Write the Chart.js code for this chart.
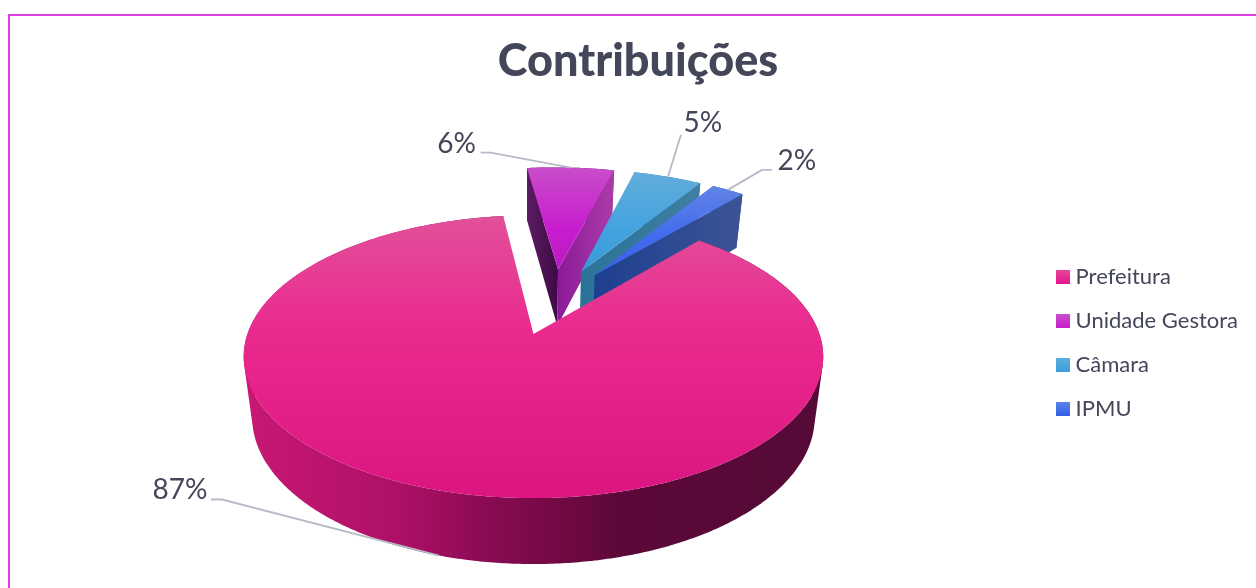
<!DOCTYPE html>
<html><head><meta charset="utf-8">
<style>
html,body{margin:0;padding:0;background:#fff;overflow:hidden;width:1256px;height:588px}
#frame{position:absolute;left:8px;top:14px;width:1260px;height:600px;border:2px solid #DB3FDD;box-sizing:border-box}
canvas{position:absolute;left:0;top:0}
</style>
<script src="https://cdn.jsdelivr.net/npm/chart.js@4/dist/chart.umd.min.js"></script>
</head><body><div id="frame"></div><canvas id="c" width="1256" height="588"></canvas>
<script>
const categories = ['Prefeitura', 'Unidade Gestora', 'Câmara', 'IPMU'];
const contributions = [86.8, 6.1, 4.8, 2.3];
const titleText = 'Contribuições';

const INK = '#44465A', LEADER = '#B9B9C8';
const faceStops = [
  [[0, '#E2509A'], [0.4, '#EA2A8F'], [1, '#DC1580']],
  [[0, '#C94DC9'], [0.6, '#C81DCF'], [1, '#B91AC0']],
  [[0, '#62ADDC'], [0.6, '#42A2DE'], [1, '#3A9AD8']],
  [[0, '#6084E6'], [0.6, '#4069EE'], [1, '#3A62E8']]
];
const rimStops = [
  [[0, '#C81874'], [0.27, '#AE1066'], [0.42, '#8A0B52'], [0.65, '#5C0838'], [1, '#550A36']],
  [[0, '#5A1A60'], [1, '#5A1A60']],
  [[0, '#3B7A9E'], [1, '#3B7A9E']],
  [[0, '#3A5295'], [1, '#3A5295']]
];
const startWall = [null, ['#5C1C62', '#3D0A45'], null, null];
const endWall = [null, ['#8A1A98', '#AC3CA8'], ['#2A7398', '#3F7FA2'], ['#1E3F8F', '#3C5496']];
const legendBox = [['#E8459A', '#E4168A'], ['#CB4DCB', '#C81CCE'], ['#5FAEDE', '#3A9EDC'], ['#5C82E8', '#2F5FE6']];
const sliceScale = [1, 0.99, 0.99, 0.99];
const anchorBase = [true, false, false, false];
const leaderGeom = [
  {elbow: [-217, -56], end: [-228, -56], text: [-259, -66]},
  {elbow: [-80, -15], end: [-90, -15], text: [-114, -24]},
  {elbow: [13, -42], end: [13, -42], text: [35, -54]},
  {elbow: [34, -20], end: [44, -20], text: [69, -29]}
];
const drawOrder = [1, 2, 3, 0];

// perspective of the pie plane
const VIEW = {k: 0.4818, p: 0.000559, fx: 21.6, fy: -71.2, baseScale: 1.03, depth: 61.2};
function project(x, y, base) {
  const u = x + VIEW.fx, v = y + VIEW.fy;
  let w = 1 - VIEW.p * v;
  if (base) w *= VIEW.baseScale;
  return {X: u / w, Y: (VIEW.k * v + (base ? VIEW.depth : 0)) / w};
}
function toScreen(el, x, y, base) {
  const o = project(0, 0, false), q = project(x, y, base);
  return {x: el.x + q.X, y: el.y + q.Y - o.Y};
}
function stopsGradient(ctx, x0, y0, x1, y1, stops) {
  const g = ctx.createLinearGradient(x0, y0, x1, y1);
  stops.forEach(s => g.addColorStop(s[0], s[1]));
  return g;
}
function subPoly(ctx, pts) {
  pts.forEach((p, i) => i ? ctx.lineTo(p.x, p.y) : ctx.moveTo(p.x, p.y));
  ctx.closePath();
}
function poly(ctx, pts) {
  ctx.beginPath();
  subPoly(ctx, pts);
}
function signedArea(pts) {
  let s = 0;
  pts.forEach((p, i) => { const q = pts[(i + 1) % pts.length]; s += p.x * q.y - q.x * p.y; });
  return s;
}

class Arc3D extends Chart.ArcElement {
  static id = 'arc3d';
  geometry() {
    const g = this.getProps(['x', 'y', 'startAngle', 'endAngle', 'outerRadius'], true);
    const i = this.$context.index, mid = (g.startAngle + g.endAngle) / 2, off = this.options.offset;
    const ox = Math.cos(mid) * off, oy = Math.sin(mid) * off, R = g.outerRadius * sliceScale[i];
    return {...g, i, mid, ox, oy, R};
  }
  rimPoint(g, angle, base) {
    return toScreen(g, g.ox + Math.cos(angle) * g.R, g.oy + Math.sin(angle) * g.R, base);
  }
  draw(ctx) {
    const g = this.geometry(), i = g.i;
    const n = Math.max(2, Math.ceil((g.endAngle - g.startAngle) / 0.01));
    const topRim = [], baseRim = [];
    for (let t = 0; t <= n; t++) {
      const a = g.startAngle + (g.endAngle - g.startAngle) * t / n;
      topRim.push(this.rimPoint(g, a, false));
      baseRim.push(this.rimPoint(g, a, true));
    }
    const apexTop = toScreen(g, g.ox, g.oy, false), apexBase = toScreen(g, g.ox, g.oy, true);
    ctx.save();
    // outer wall: same-winding quads in one path, so overlaps at the silhouette never cancel
    const wx = baseRim.concat(topRim).map(p => p.x), wl = Math.min(...wx), wr = Math.max(...wx);
    ctx.beginPath();
    for (let t = 0; t < n; t++) {
      const quad = [topRim[t], topRim[t + 1], baseRim[t + 1], baseRim[t]];
      if (signedArea(quad) < 0) quad.reverse();
      subPoly(ctx, quad);
    }
    ctx.fillStyle = stopsGradient(ctx, wl, 0, wr, 0, rimStops[i]);
    ctx.fill('nonzero');
    // cut faces
    const startQuad = [apexTop, topRim[0], baseRim[0], apexBase];
    const endQuad = [apexTop, topRim[n], baseRim[n], apexBase];
    if (signedArea(startQuad) < 0 && startWall[i]) {
      poly(ctx, startQuad);
      ctx.fillStyle = stopsGradient(ctx, topRim[0].x, 0, apexTop.x, 0, [[0, startWall[i][0]], [1, startWall[i][1]]]);
      ctx.fill();
    }
    if (signedArea(endQuad) > 0 && endWall[i]) {
      poly(ctx, endQuad);
      ctx.fillStyle = stopsGradient(ctx, apexTop.x, 0, topRim[n].x, 0, [[0, endWall[i][0]], [1, endWall[i][1]]]);
      ctx.fill();
    }
    // top face
    const face = [apexTop].concat(topRim);
    const ys = face.map(p => p.y);
    poly(ctx, face);
    ctx.fillStyle = stopsGradient(ctx, 0, Math.min(...ys), 0, Math.max(...ys), faceStops[i]);
    ctx.fill();
    ctx.restore();
  }
}

class Pie3D extends Chart.PieController {
  static id = 'pie3d';
  static defaults = {dataElementType: 'arc3d'};
  draw() {
    const els = this._cachedMeta.data;
    drawOrder.forEach(i => els[i] && els[i].draw(this._ctx, this.chart.chartArea));
  }
}
Chart.register(Arc3D, Pie3D);

function legendImage(i) {
  const c = document.createElement('canvas');
  c.width = 14; c.height = 14;
  const x = c.getContext('2d');
  const g = x.createLinearGradient(0, 0, 0, 14);
  g.addColorStop(0, legendBox[i][0]); g.addColorStop(1, legendBox[i][1]);
  x.fillStyle = g; x.fillRect(0, 0, 14, 14);
  return c;
}

const leaderPlugin = {
  id: 'leaders',
  afterDatasetsDraw(chart) {
    const ctx = chart.ctx, els = chart.getDatasetMeta(0).data;
    const total = contributions.reduce((a, b) => a + b, 0);
    ctx.save();
    els.forEach((el, i) => {
      const g = el.geometry();
      const a = el.rimPoint(g, g.mid, anchorBase[i]), L = leaderGeom[i];
      ctx.beginPath();
      ctx.moveTo(a.x, a.y);
      ctx.lineTo(a.x + L.elbow[0], a.y + L.elbow[1]);
      ctx.lineTo(a.x + L.end[0], a.y + L.end[1]);
      ctx.strokeStyle = LEADER; ctx.lineWidth = 1.8; ctx.stroke();
      ctx.fillStyle = INK;
      ctx.font = '400 28px Lato';
      ctx.textAlign = 'center'; ctx.textBaseline = 'middle';
      ctx.fillText(Math.round(contributions[i] / total * 100) + '%', a.x + L.text[0], a.y + L.text[1]);
    });
    ctx.restore();
  }
};

new Chart(document.getElementById('c'), {
  type: 'pie3d',
  data: {labels: categories, datasets: [{
    data: contributions, offset: 74.5, radius: 286, clip: false,
    backgroundColor: ['#E8258C', '#C81DCF', '#42A2DE', '#4069EE'], borderWidth: 0
  }]},
  plugins: [leaderPlugin],
  options: {
    responsive: false, animation: false, rotation: 40.5,
    layout: {padding: {left: 28, right: 8, top: 0, bottom: 83}},
    plugins: {
      tooltip: {enabled: false},
      title: {display: true, text: titleText, color: INK, font: {family: 'Lato', size: 45, weight: '900', lineHeight: 1.2}, padding: {top: 34, bottom: 9}},
      legend: {
        position: 'right', align: 'center',
        title: {display: true, text: ' ', padding: 83.5, font: {size: 12}},
        labels: {
          usePointStyle: true, pointStyleWidth: 4, boxHeight: 14, padding: 22, color: INK,
          font: {family: 'Lato', size: 22},
          generateLabels: () => categories.map((t, i) => ({text: t, index: i, pointStyle: legendImage(i), fontColor: INK, fillStyle: '#000', strokeStyle: '#000', lineWidth: 0}))
        }
      }
    }
  }
});
</script></body></html>
